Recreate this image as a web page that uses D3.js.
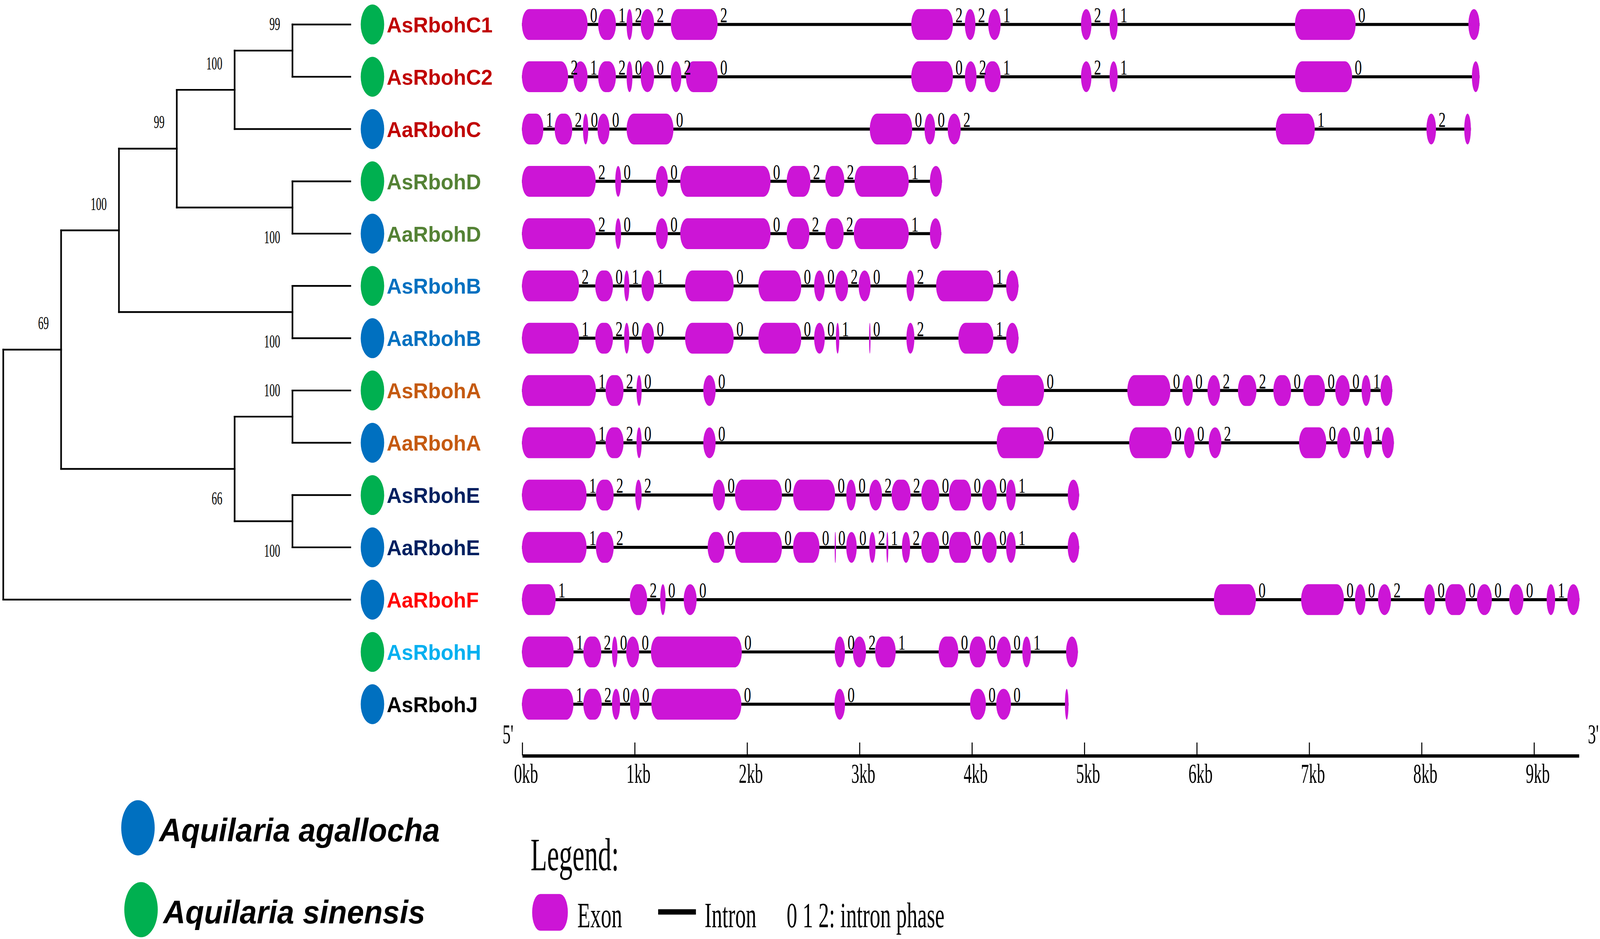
<!DOCTYPE html>
<html>
<head>
<meta charset="utf-8">
<script src="https://cdn.jsdelivr.net/npm/d3@7"></script>
<style>
  html, body { margin: 0; width: 100%; height: 100%; overflow: hidden; background: #fff; }
  #chart_area { width: 100vw; height: 100vh; }
  svg { display: block; }
</style>
</head>
<body>
<div id="chart_area"></div>
<script>
// gene order, top to bottom
const genes = ['AsRbohC1', 'AsRbohC2', 'AaRbohC', 'AsRbohD', 'AaRbohD', 'AsRbohB', 'AaRbohB',
  'AsRbohA', 'AaRbohA', 'AsRbohE', 'AaRbohE', 'AaRbohF', 'AsRbohH', 'AsRbohJ'];
const species = ['As', 'As', 'Aa', 'As', 'Aa', 'As', 'Aa', 'As', 'Aa', 'As', 'Aa', 'Aa', 'As', 'Aa'];
const subfamily = ['C', 'C', 'C', 'D', 'D', 'B', 'B', 'A', 'A', 'E', 'E', 'F', 'H', 'J'];

// NJ tree with bootstrap support
const newick = '((((((AsRbohC1,AsRbohC2)99,AaRbohC)100,(AsRbohD,AaRbohD)100)99,(AsRbohB,AaRbohB)100)100,' +
  '((AsRbohA,AaRbohA)100,(AsRbohE,AaRbohE)100)66)69,AaRbohF),(AsRbohH,AsRbohJ)100);';

// exons [start, end] in kb
const exAsRbohC1 = [[0, 0.584], [0.678, 0.836], [0.931, 0.983], [1.056, 1.176], [1.324, 1.741], [3.463, 3.834],
  [3.94, 4.034], [4.148, 4.258], [4.973, 5.066], [5.227, 5.299], [6.876, 7.416], [8.419, 8.518]];
const exAsRbohC2 = [[0, 0.411], [0.458, 0.584], [0.678, 0.836], [0.931, 0.983], [1.056, 1.176], [1.324, 1.418],
  [1.459, 1.741], [3.463, 3.834], [3.94, 4.044], [4.114, 4.258], [4.973, 5.066], [5.227, 5.299], [6.876, 7.385], [8.45, 8.518]];
const exAaRbohC = [[0, 0.191], [0.291, 0.448], [0.543, 0.59], [0.672, 0.779], [0.931, 1.348], [3.094, 3.472],
  [3.581, 3.676], [3.787, 3.903], [6.705, 7.053], [8.046, 8.131], [8.382, 8.441]];
const exAsRbohD = [[0, 0.656], [0.83, 0.882], [1.191, 1.298], [1.408, 2.211], [2.355, 2.566], [2.698, 2.868],
  [2.959, 3.441], [3.629, 3.736]];
const exAaRbohD = [[0, 0.656], [0.83, 0.882], [1.191, 1.298], [1.408, 2.211], [2.355, 2.557], [2.698, 2.862],
  [2.952, 3.441], [3.629, 3.73]];
const exAsRbohB = [[0, 0.508], [0.652, 0.81], [0.909, 0.955], [1.063, 1.176], [1.451, 1.884], [2.103, 2.485],
  [2.599, 2.694], [2.786, 2.902], [2.995, 3.101], [3.42, 3.491], [3.684, 4.194], [4.307, 4.417]];
const exAaRbohB = [[0, 0.508], [0.652, 0.81], [0.909, 0.955], [1.063, 1.176], [1.451, 1.884], [2.103, 2.485],
  [2.599, 2.694], [2.793, 2.823], [3.088, 3.101], [3.42, 3.491], [3.882, 4.194], [4.307, 4.417]];
const exAsRbohA = [[0, 0.658], [0.744, 0.904], [1.019, 1.065], [1.613, 1.723], [4.223, 4.645], [5.385, 5.768],
  [5.874, 5.968], [6.098, 6.211], [6.369, 6.534], [6.684, 6.842], [6.95, 7.144], [7.235, 7.364], [7.469, 7.549], [7.637, 7.742]];
const exAaRbohA = [[0, 0.658], [0.744, 0.904], [1.019, 1.065], [1.613, 1.723], [4.223, 4.645], [5.401, 5.781],
  [5.889, 5.984], [6.109, 6.222], [6.912, 7.155], [7.252, 7.371], [7.485, 7.561], [7.648, 7.756]];
const exAsRbohE = [[0, 0.575], [0.658, 0.816], [1.008, 1.065], [1.697, 1.807], [1.895, 2.313], [2.412, 2.786],
  [2.885, 2.971], [3.089, 3.203], [3.288, 3.457], [3.552, 3.713], [3.798, 3.996], [4.091, 4.224], [4.307, 4.393], [4.855, 4.956]];
const exAaRbohE = [[0, 0.575], [0.658, 0.816], [1.652, 1.802], [1.895, 2.313], [2.412, 2.647], [2.782, 2.791],
  [2.885, 2.978], [3.089, 3.145], [3.242, 3.259], [3.38, 3.453], [3.552, 3.713], [3.798, 3.996], [4.091, 4.224],
  [4.307, 4.393], [4.855, 4.956]];
const exAaRbohF = [[0, 0.3], [0.96, 1.114], [1.23, 1.278], [1.439, 1.554], [6.155, 6.529], [6.931, 7.312],
  [7.41, 7.504], [7.615, 7.731], [8.025, 8.122], [8.213, 8.397], [8.495, 8.628], [8.782, 8.909], [9.115, 9.191], [9.299, 9.407]];
const exAsRbohH = [[0, 0.46], [0.546, 0.706], [0.801, 0.85], [0.927, 1.043], [1.147, 1.956], [2.782, 2.874],
  [2.944, 3.061], [3.142, 3.325], [3.706, 3.882], [3.981, 4.129], [4.223, 4.35], [4.451, 4.527], [4.84, 4.945]];
const exAsRbohJ = [[0, 0.458], [0.546, 0.71], [0.801, 0.873], [0.961, 1.047], [1.151, 1.952], [2.78, 2.874],
  [3.986, 4.127], [4.219, 4.35], [4.83, 4.862]];

// intron phase after each exon
const phAsRbohC1 = [0, 1, 2, 2, 2, 2, 2, 1, 2, 1, 0];
const phAsRbohC2 = [2, 1, 2, 0, 0, 2, 0, 0, 2, 1, 2, 1, 0];
const phAaRbohC = [1, 2, 0, 0, 0, 0, 0, 2, 1, 2];
const phAsRbohD = [2, 0, 0, 0, 2, 2, 1];
const phAaRbohD = [2, 0, 0, 0, 2, 2, 1];
const phAsRbohB = [2, 0, 1, 1, 0, 0, 0, 2, 0, 2, 1];
const phAaRbohB = [1, 2, 0, 0, 0, 0, 0, 1, 0, 2, 1];
const phAsRbohA = [1, 2, 0, 0, 0, 0, 0, 2, 2, 0, 0, 0, 1];
const phAaRbohA = [1, 2, 0, 0, 0, 0, 0, 2, 0, 0, 1];
const phAsRbohE = [1, 2, 2, 0, 0, 0, 0, 2, 2, 0, 0, 0, 1];
const phAaRbohE = [1, 2, 0, 0, 0, 0, 0, 2, 1, 2, 0, 0, 0, 1];
const phAaRbohF = [1, 2, 0, 0, 0, 0, 0, 2, 0, 0, 0, 0, 1];
const phAsRbohH = [1, 2, 0, 0, 0, 0, 2, 1, 0, 0, 0, 1];
const phAsRbohJ = [1, 2, 0, 0, 0, 0, 0, 0];

const exonSets = [exAsRbohC1, exAsRbohC2, exAaRbohC, exAsRbohD, exAaRbohD, exAsRbohB, exAaRbohB,
  exAsRbohA, exAaRbohA, exAsRbohE, exAaRbohE, exAaRbohF, exAsRbohH, exAsRbohJ];
const phaseSets = [phAsRbohC1, phAsRbohC2, phAaRbohC, phAsRbohD, phAaRbohD, phAsRbohB, phAaRbohB,
  phAsRbohA, phAaRbohA, phAsRbohE, phAaRbohE, phAaRbohF, phAsRbohH, phAsRbohJ];

const kbTicks = [0, 1, 2, 3, 4, 5, 6, 7, 8, 9];
const axisEndKb = 9.4;
const speciesNames = { Aa: 'Aquilaria agallocha', As: 'Aquilaria sinensis' };

// styles
const speciesColor = { Aa: '#0070c0', As: '#00b050' };
const familyColor = { C: '#c00000', D: '#548235', B: '#0070c0', A: '#c55a11', E: '#002060', F: '#ff0000', H: '#00b0f0', J: '#000000' };
const exonColor = '#cc15d6';
const serif = "'Liberation Serif', 'Times New Roman', serif";
const sans = "'Liberation Sans', Arial, sans-serif";

// drawing units follow a 1568-wide layout, stretched to fill the window
const W = 1568;
const H = W * 2405 / 4331;
const svg = d3
  .select('#chart_area')
  .append('svg')
  .attr('width', window.innerWidth || 4331)
  .attr('height', window.innerHeight || 2405)
  .attr('viewBox', '0 0 ' + W + ' ' + H)
  .attr('preserveAspectRatio', 'none');

// simple newick reader
function parseNewick(s) {
  let i = 0;
  function node() {
    const n = {};
    if (s[i] === '(') {
      i++;
      n.children = [];
      do {
        n.children.push(node());
      } while (s[i++] === ',');
    }
    let label = '';
    while (i < s.length && !',();'.includes(s[i])) label += s[i++];
    if (n.children) n.support = label ? +label : null;
    else n.name = label;
    return n;
  }
  return node();
}

// squeezed text, like the narrow serif labels in the original
function squeeze(sx) {
  return function() {
    return 'translate(' + this.getAttribute('data-x') + ',' + this.getAttribute('data-y') + ') scale(' + sx + ',1)';
  };
}

// scales
const y = d3.scalePoint().domain(genes).range([22.7, 653]);
const x = d3.scaleLinear().domain([0, axisEndKb]).range([511.5, 1547.1]);

// ---- tree ----
const root = d3.hierarchy(parseNewick(newick));
const xTree = d3.scaleLinear().domain([root.height, 0]).range([3.2, 343.3]);
root.eachAfter(n => {
  n.px = xTree(n.height);
  n.py = n.children
    ? (n.children[0].py + n.children[n.children.length - 1].py) / 2
    : y(n.data.name);
});

const treeG = svg.append('g')
  .attr('fill', 'none')
  .attr('stroke', '#000')
  .attr('stroke-width', 1.6)
  .attr('stroke-linecap', 'square');

treeG.selectAll('path.h')
  .data(root.descendants().filter(n => n.parent))
  .join('path')
  .attr('class', 'h')
  .attr('d', n => 'M' + n.parent.px + ',' + n.py + 'H' + n.px);

treeG.selectAll('path.v')
  .data(root.descendants().filter(n => n.children))
  .join('path')
  .attr('class', 'v')
  .attr('d', n => 'M' + n.px + ',' + n.children[0].py + 'V' + n.children[n.children.length - 1].py);

// bootstrap values: above the node for a first child, below otherwise
svg.selectAll('text.boot')
  .data(root.descendants().filter(n => n.data.support != null))
  .join('text')
  .attr('class', 'boot')
  .attr('data-x', n => n.px - 12)
  .attr('data-y', n => n.py + (n.parent && n.parent.children[0] === n ? -19 : 33))
  .attr('transform', squeeze(0.62))
  .attr('text-anchor', 'end')
  .attr('font-family', serif)
  .attr('font-size', 17)
  .text(n => n.data.support);

// species markers and gene names
svg.selectAll('ellipse.sp')
  .data(genes)
  .join('ellipse')
  .attr('class', 'sp')
  .attr('cx', 365)
  .attr('cy', d => y(d))
  .attr('rx', 11.5)
  .attr('ry', 18.5)
  .attr('fill', (d, i) => speciesColor[species[i]]);

svg.selectAll('text.gene')
  .data(genes)
  .join('text')
  .attr('class', 'gene')
  .attr('x', 379)
  .attr('y', d => y(d) + 7.3)
  .attr('font-family', sans)
  .attr('font-weight', 'bold')
  .attr('font-size', 20.3)
  .attr('fill', (d, i) => familyColor[subfamily[i]])
  .text(d => d);

// ---- gene structures ----
const exonH = 28.6;
genes.forEach((gene, i) => {
  const exons = exonSets[i];
  const phases = phaseSets[i];
  const g = svg.append('g').attr('transform', 'translate(0,' + y(gene) + ')');

  g.append('line')
    .attr('x1', x(exons[0][0]))
    .attr('x2', x(exons[exons.length - 1][1]))
    .attr('stroke', '#000')
    .attr('stroke-width', 2.8);

  g.selectAll('rect')
    .data(exons)
    .join('rect')
    .attr('x', d => x(d[0]))
    .attr('width', d => Math.max(x(d[1]) - x(d[0]), 1.2))
    .attr('y', -exonH / 2)
    .attr('height', exonH)
    .attr('rx', d => Math.min(7, (x(d[1]) - x(d[0])) / 2))
    .attr('ry', exonH / 2)
    .attr('fill', exonColor);

  g.selectAll('text')
    .data(phases.map((p, j) => ({ p: p, at: exons[j][1] })))
    .join('text')
    .attr('data-x', d => x(d.at) + 2.5)
    .attr('data-y', -2)
    .attr('transform', squeeze(0.7))
    .attr('font-family', serif)
    .attr('font-size', 20)
    .text(d => d.p);
});

// ---- kb axis ----
const axisY = 700.5;
const axisG = svg.append('g')
  .attr('transform', 'translate(0,' + axisY + ')')
  .call(d3.axisBottom(x).tickValues(kbTicks).tickSizeInner(-12).tickSizeOuter(0).tickFormat(d => d + 'kb'));
axisG.select('.domain').attr('stroke', '#000').attr('stroke-width', 3);
axisG.selectAll('.tick line').attr('stroke', '#000').attr('stroke-width', 1);
axisG.selectAll('.tick text')
  .attr('y', null)
  .attr('dy', null)
  .attr('transform', 'translate(3.5,25.5) scale(0.63,1)')
  .attr('font-family', serif)
  .attr('font-size', 25)
  .attr('fill', '#000');

svg.selectAll('text.end')
  .data([["5'", x.range()[0] - 19], ["3'", x.range()[1] + 9]])
  .join('text')
  .attr('class', 'end')
  .attr('data-x', d => d[1])
  .attr('data-y', axisY - 11)
  .attr('transform', squeeze(0.63))
  .attr('font-family', serif)
  .attr('font-size', 25)
  .text(d => d[0]);

// ---- species legend ----
const spLegend = svg.append('g');
[['Aa', 135.2, 767.6, 156], ['As', 138.2, 843.5, 160]].forEach(([k, cx, cy, tx]) => {
  spLegend.append('ellipse')
    .attr('cx', cx).attr('cy', cy).attr('rx', 16.4).attr('ry', 25.6)
    .attr('fill', speciesColor[k]);
  spLegend.append('text')
    .attr('x', tx).attr('y', cy + 12.6)
    .attr('font-family', sans)
    .attr('font-weight', 'bold')
    .attr('font-style', 'italic')
    .attr('font-size', 30)
    .text(speciesNames[k]);
});

// ---- structure legend ----
const lg = svg.append('g').attr('font-family', serif);
lg.append('text')
  .attr('transform', 'translate(520,807) scale(0.62,1)')
  .attr('font-size', 42.6)
  .text('Legend:');
lg.append('rect')
  .attr('x', 521.5).attr('y', 829).attr('width', 35).attr('height', 34)
  .attr('rx', 8).attr('ry', 17)
  .attr('fill', exonColor);
lg.append('line')
  .attr('x1', 645).attr('x2', 682).attr('y1', 845.6).attr('y2', 845.6)
  .attr('stroke', '#000').attr('stroke-width', 5);
[['Exon', 565.8], ['Intron', 690.5], ['0 1 2: intron phase', 770.9]].forEach(([t, tx]) => {
  lg.append('text')
    .attr('transform', 'translate(' + tx + ',859.8) scale(0.63,1)')
    .attr('font-size', 33)
    .text(t);
});
</script>
</body>
</html>
